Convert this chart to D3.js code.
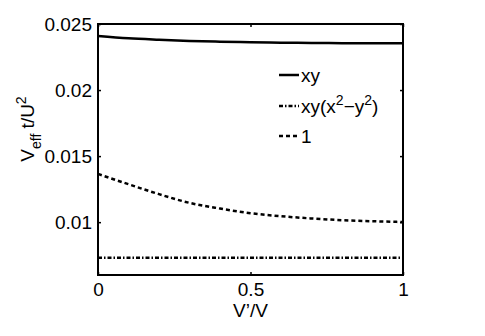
<!DOCTYPE html>
<html>
<head>
<meta charset="utf-8">
<script src="https://cdn.jsdelivr.net/npm/d3@7"></script>
<style>
  body { margin: 0; background: #fff; }
  text { font-family: "Liberation Sans", Arial, sans-serif; fill: #000; }
</style>
</head>
<body>
<svg id="chart" width="485" height="336"></svg>
<script>
// V'/V values along x
var ratio = [0, 0.1, 0.2, 0.3, 0.4, 0.5, 0.6, 0.7, 0.8, 0.9, 1];
// V_eff t/U^2 for each pairing symmetry
var xyVals = [0.02410, 0.02392, 0.02381, 0.02372, 0.02366, 0.02362, 0.02359, 0.02357, 0.02355, 0.02354, 0.02354];
var xyx2y2Vals = [0.0073, 0.0073, 0.0073, 0.0073, 0.0073, 0.0073, 0.0073, 0.0073, 0.0073, 0.0073, 0.0073];
var oneVals = [0.01365, 0.01287, 0.01212, 0.01146, 0.01103, 0.01068, 0.01045, 0.01028, 0.01015, 0.01007, 0.01001];
var xTicks = [0, 0.5, 1];
var yTicks = [0.01, 0.015, 0.02, 0.025];

var svg = d3.select("#chart"),
    pLeft = 98, pRight = 403, pTop = 24, pBottom = 275;

var x = d3.scaleLinear().domain([0, 1]).range([pLeft, pRight]);
var y = d3.scaleLinear().domain([0.006, 0.025]).range([pBottom, pTop]);

var series = [
  { name: "xy", vals: xyVals, dash: null, w: 2.5 },
  { name: "xy(x2-y2)", vals: xyx2y2Vals, dash: "4,2,1.5,2", w: 2.5 },
  { name: "1", vals: oneVals, dash: "4,3", w: 2.5 }
];

var line = d3.line()
    .x(function(d) { return x(d[0]); })
    .y(function(d) { return y(d[1]); })
    .curve(d3.curveMonotoneX);

series.forEach(function(s) {
  svg.append("path")
      .datum(ratio.map(function(r, i) { return [r, s.vals[i]]; }))
      .attr("fill", "none")
      .attr("stroke", "#000")
      .attr("stroke-width", s.w)
      .attr("stroke-dasharray", s.dash)
      .attr("d", line);
});

// axes, ticks inside on all four sides
var tl = 3;
svg.append("g").attr("transform", "translate(0," + pBottom + ")")
    .call(d3.axisBottom(x).tickValues(xTicks).tickSizeInner(-tl).tickSizeOuter(0).tickPadding(8).tickFormat(d3.format("")));
svg.append("g").attr("transform", "translate(0," + pTop + ")")
    .call(d3.axisTop(x).tickValues(xTicks).tickSizeInner(-tl).tickSizeOuter(0).tickFormat(""));
svg.append("g").attr("transform", "translate(" + pLeft + ",0)")
    .call(d3.axisLeft(y).tickValues(yTicks).tickSizeInner(-tl).tickSizeOuter(0).tickPadding(6).tickFormat(d3.format("")));
svg.append("g").attr("transform", "translate(" + pRight + ",0)")
    .call(d3.axisRight(y).tickValues(yTicks).tickSizeInner(-tl).tickSizeOuter(0).tickFormat(""));

svg.selectAll(".domain").remove();
svg.selectAll(".tick line").attr("stroke", "#000").attr("stroke-width", 1.5);
svg.selectAll(".tick text").attr("font-size", 19).attr("fill", "#000")
    .attr("font-family", "Liberation Sans, Arial, sans-serif");

svg.append("rect")
    .attr("x", pLeft).attr("y", pTop)
    .attr("width", pRight - pLeft).attr("height", pBottom - pTop)
    .attr("fill", "none").attr("stroke", "#000").attr("stroke-width", 2);

// axis labels
svg.append("text")
    .attr("x", (pLeft + pRight) / 2).attr("y", 317)
    .attr("text-anchor", "middle").attr("font-size", 19)
    .text("V\u2019/V");

var yl = svg.append("text")
    .attr("transform", "translate(34,129) rotate(-90)")
    .attr("text-anchor", "middle").attr("font-size", 19);
yl.append("tspan").text("V");
yl.append("tspan").attr("font-size", 14).attr("dy", 7).text("eff");
yl.append("tspan").attr("dy", -7).text(" t/U");
yl.append("tspan").attr("font-size", 14).attr("dy", -8).text("2");

// legend
var lg = svg.append("g").attr("transform", "translate(279,0)");
var rows = [75, 106, 136];
series.forEach(function(s, i) {
  lg.append("line")
      .attr("x1", 0).attr("x2", 20)
      .attr("y1", rows[i]).attr("y2", rows[i])
      .attr("stroke", "#000").attr("stroke-width", s.w)
      .attr("stroke-dasharray", s.dash);
});
lg.append("text").attr("x", 22).attr("y", rows[0] + 7).attr("font-size", 19).text("xy");
var t2 = lg.append("text").attr("x", 22).attr("y", rows[1] + 7).attr("font-size", 19);
t2.append("tspan").text("xy(x");
t2.append("tspan").attr("font-size", 14).attr("dy", -8).text("2");
t2.append("tspan").attr("dy", 8).text("\u2212y");
t2.append("tspan").attr("font-size", 14).attr("dy", -8).text("2");
t2.append("tspan").attr("dy", 8).text(")");
lg.append("text").attr("x", 22).attr("y", rows[2] + 7).attr("font-size", 19).text("1");
</script>
</body>
</html>
